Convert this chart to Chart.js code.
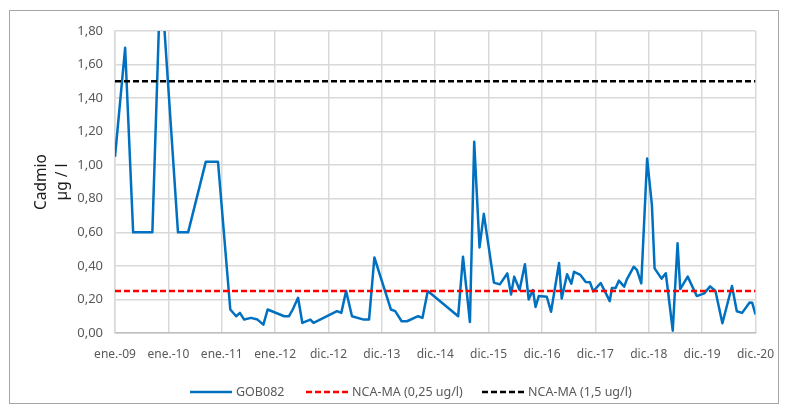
<!DOCTYPE html>
<html>
<head>
<meta charset="utf-8">
<script src="https://cdn.jsdelivr.net/npm/chart.js@4.4.1/dist/chart.umd.min.js"></script>
<style>
html, body { margin: 0; padding: 0; background: #fff; }
</style>
</head>
<body>
<canvas id="grafico" width="788" height="414"></canvas>
<script>
// etiquetas del eje X (cada 365 días desde ene.-09)
const etiquetasX = ['ene.-09', 'ene.-10', 'ene.-11', 'ene.-12', 'dic.-12', 'dic.-13', 'dic.-14',
                    'dic.-15', 'dic.-16', 'dic.-17', 'dic.-18', 'dic.-19', 'dic.-20'];

// fecha de cada muestra, en años desde ene.-09
const fechas = [
    0.00, 0.19, 0.34, 0.70, 0.855, 1.18, 1.37, 1.70, 1.93, 2.16,
    2.27, 2.34, 2.42, 2.55, 2.67, 2.78, 2.86, 3.17, 3.26, 3.33,
    3.43, 3.51, 3.66, 3.72, 4.16, 4.24, 4.33, 4.44, 4.66, 4.76,
    4.86, 5.17, 5.25, 5.37, 5.47, 5.68, 5.76, 5.86, 6.43, 6.52,
    6.65, 6.73, 6.83, 6.91, 7.10, 7.21, 7.35, 7.42, 7.48, 7.58,
    7.68, 7.75, 7.83, 7.88, 7.94, 8.09, 8.17, 8.32, 8.37, 8.47,
    8.55, 8.60, 8.72, 8.82, 8.90, 8.96, 9.10, 9.27, 9.31, 9.38,
    9.44, 9.54, 9.59, 9.72, 9.78, 9.86, 9.97, 10.06, 10.11, 10.24,
    10.32, 10.45, 10.54, 10.59, 10.73, 10.90, 11.04, 11.15, 11.25, 11.38,
    11.56, 11.65, 11.75, 11.89, 11.94, 12.00
];

// cadmio GOB082 (µg/l)
const cadmio = [
    1.05, 1.70, 0.60, 0.60, 2.15, 0.60, 0.60, 1.02, 1.02, 0.14,
    0.10, 0.12, 0.08, 0.09, 0.08, 0.05, 0.14, 0.10, 0.10, 0.14,
    0.21, 0.06, 0.08, 0.06, 0.13, 0.12, 0.25, 0.10, 0.08, 0.08,
    0.45, 0.14, 0.13, 0.07, 0.07, 0.10, 0.09, 0.25, 0.10, 0.455,
    0.065, 1.14, 0.51, 0.71, 0.30, 0.29, 0.355, 0.23, 0.336, 0.256,
    0.41, 0.20, 0.256, 0.155, 0.22, 0.216, 0.127, 0.417, 0.205, 0.35,
    0.294, 0.365, 0.346, 0.304, 0.302, 0.248, 0.298, 0.19, 0.268, 0.268,
    0.312, 0.276, 0.32, 0.395, 0.375, 0.296, 1.04, 0.76, 0.385, 0.324,
    0.356, 0.014, 0.535, 0.262, 0.336, 0.22, 0.236, 0.278, 0.25, 0.058,
    0.28, 0.13, 0.12, 0.182, 0.18, 0.11
];

// límites NCA-MA
const ncaMedia = 0.25;
const ncaMaxima = 1.5;

const serieGOB = fechas.map((x, i) => ({ x: x, y: cadmio[i] }));
const inicio = 0;
const fin = etiquetasX.length - 1;

// marco, título del eje Y y leyenda dibujados a mano
const extras = {
    id: 'extras',
    afterDraw(chart) {
        const ctx = chart.ctx;
        ctx.save();

        // marco del gráfico
        ctx.strokeStyle = '#a6a6a6';
        ctx.lineWidth = 1;
        ctx.strokeRect(9.5, 10.5, 769, 393);

        // título eje Y
        const area = chart.chartArea;
        const centroY = (area.top + area.bottom) / 2;
        ctx.fillStyle = '#1a1a1a';
        ctx.font = '15.5px "Noto Sans"';
        ctx.textAlign = 'center';
        ctx.textBaseline = 'middle';
        ctx.translate(42, centroY);
        ctx.rotate(-Math.PI / 2);
        ctx.fillText('Cadmio', 0, 0);
        ctx.fillText('µg / l', 0, 21);
        ctx.restore();

        // leyenda
        ctx.save();
        const yLeyenda = 392;
        const inicios = [190, 306, 482];
        chart.data.datasets.forEach((ds, i) => {
            const x0 = inicios[i];
            ctx.strokeStyle = ds.borderColor;
            ctx.lineWidth = ds.borderWidth;
            ctx.setLineDash(ds.borderDash || []);
            ctx.beginPath();
            ctx.moveTo(x0, yLeyenda);
            ctx.lineTo(x0 + 42, yLeyenda);
            ctx.stroke();
            ctx.setLineDash([]);
            ctx.fillStyle = '#595959';
            ctx.font = '12.5px "Noto Sans"';
            ctx.textAlign = 'left';
            ctx.textBaseline = 'middle';
            ctx.fillText(ds.label, x0 + 46, yLeyenda);
        });
        ctx.restore();
    }
};

new Chart(document.getElementById('grafico'), {
    type: 'line',
    data: {
        datasets: [
            {
                label: 'GOB082',
                data: serieGOB,
                borderColor: '#0070c0',
                borderWidth: 2.5,
                pointRadius: 0,
                tension: 0,
                borderJoinStyle: 'round',
                order: 3
            },
            {
                label: 'NCA-MA (0,25 ug/l)',
                data: [{ x: inicio, y: ncaMedia }, { x: fin, y: ncaMedia }],
                borderColor: '#ff0000',
                borderWidth: 2.5,
                borderDash: [6, 3],
                pointRadius: 0,
                order: 2
            },
            {
                label: 'NCA-MA (1,5 ug/l)',
                data: [{ x: inicio, y: ncaMaxima }, { x: fin, y: ncaMaxima }],
                borderColor: '#000000',
                borderWidth: 2.5,
                borderDash: [6, 3],
                pointRadius: 0,
                order: 1
            }
        ]
    },
    options: {
        responsive: false,
        animation: false,
        layout: { padding: { left: 0, top: 31, right: 29, bottom: 0 } },
        plugins: {
            legend: { display: false },
            tooltip: { enabled: false }
        },
        scales: {
            x: {
                type: 'linear',
                min: inicio,
                max: fin,
                afterBuildTicks: scale => {
                    scale.ticks = etiquetasX.map((_, i) => ({ value: i }));
                },
                afterFit: scale => { scale.height = 81; },
                ticks: {
                    autoSkip: false,
                    maxRotation: 0,
                    padding: 14,
                    color: '#595959',
                    font: { family: 'Noto Sans', size: 12 },
                    callback: (v, i) => etiquetasX[i]
                },
                grid: { color: '#d9d9d9', lineWidth: 1.5, drawTicks: false },
                border: { color: '#bfbfbf', width: 1.5 }
            },
            y: {
                min: 0,
                max: 1.8,
                afterFit: scale => { scale.width = 115; },
                ticks: {
                    stepSize: 0.2,
                    padding: 12,
                    color: '#595959',
                    font: { family: 'Noto Sans', size: 13 },
                    callback: v => v.toFixed(2).replace('.', ',')
                },
                grid: { color: '#d9d9d9', lineWidth: 1.5, drawTicks: false },
                border: { color: '#d9d9d9', width: 1.5 }
            }
        }
    },
    plugins: [extras]
});
</script>
</body>
</html>
